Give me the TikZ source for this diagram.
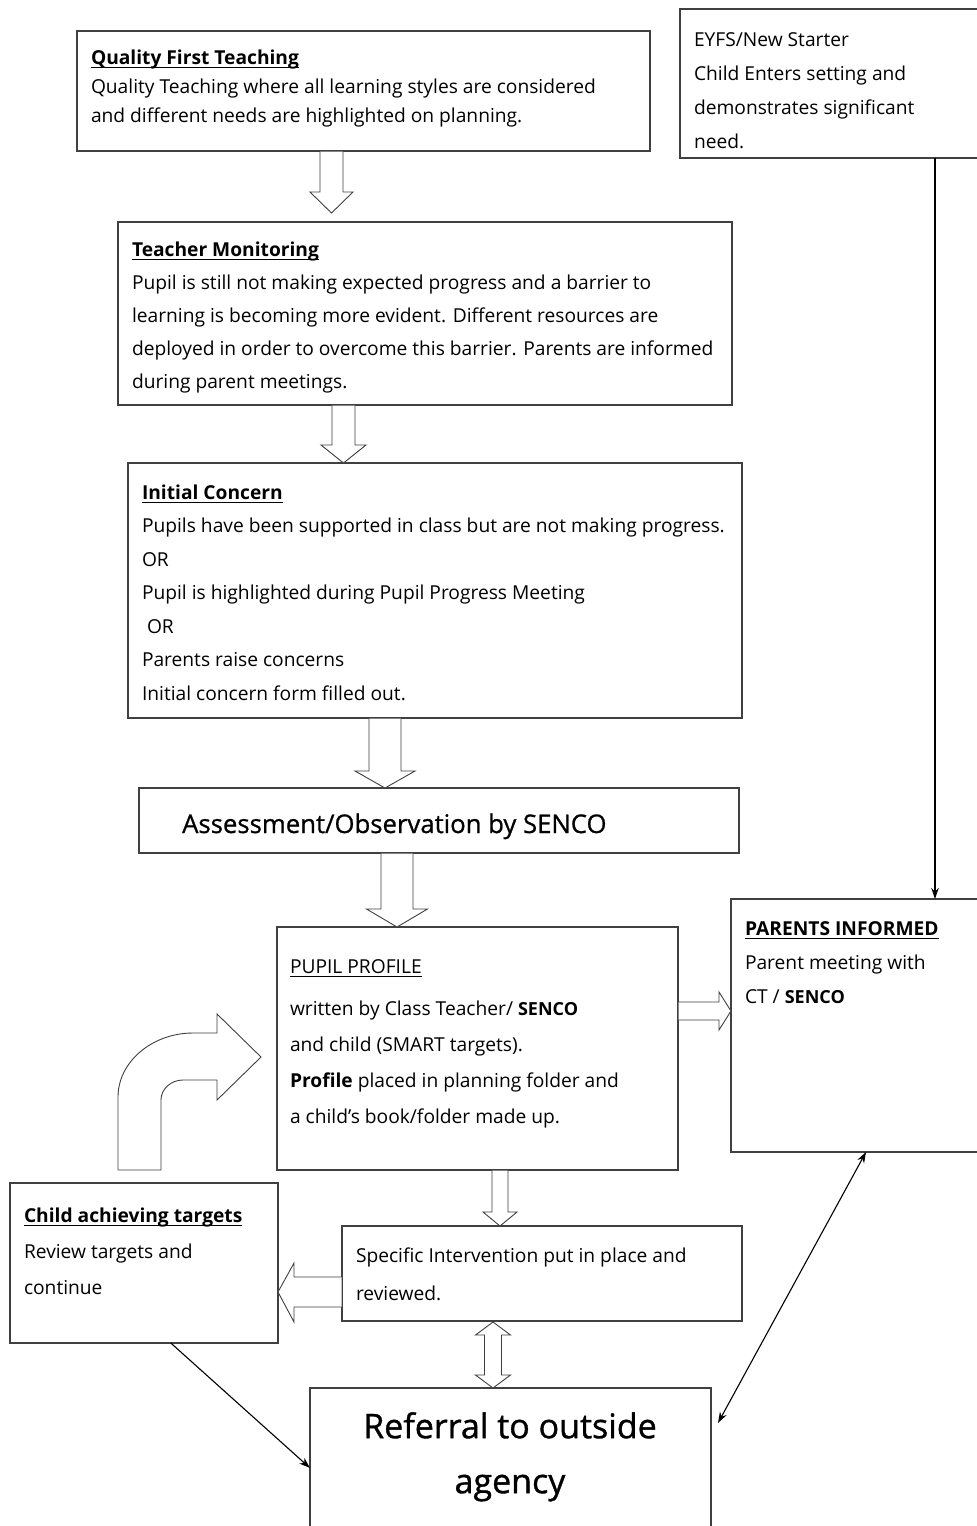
\documentclass[tikz,border=0pt]{standalone}
\usepackage{fontspec}
\setmainfont{Open Sans}
\usetikzlibrary{calc,arrows.meta}
\newcommand\ulin[1]{\setbox0\hbox{#1}\rlap{\rule[-3.6pt]{\wd0}{1pt}}\box0}
\newcommand\fl[1]{\rule{0pt}{#1}}
\newcommand\vblk[6]{\draw[blk] ({#1-#3},{#2}) -- ({#1-#3},{#5}) -- ({#1-#4},{#5}) -- ({#1},{#6}) -- ({#1+#4},{#5}) -- ({#1+#3},{#5}) -- ({#1+#3},{#2});}
\begin{document}
\begin{tikzpicture}[x=1pt,y=-1pt,
 box/.style={draw=black!75, line width=1.1pt, anchor=north west, inner sep=0pt, outer sep=0pt},
 txt/.style={anchor=north west, inner sep=0pt, outer sep=0pt, align=left, font=\fontsize{19.2}{#1}\selectfont},
 blk/.style={draw=black!75, line width=0.9pt, fill=white, line join=miter},
 ln/.style={draw=black, line width=1.1pt, -{Stealth[length=11pt,width=7.5pt]}},
 lnn/.style={draw=black, line width=1.1pt, {Stealth[length=11pt,width=7.5pt]}-{Stealth[length=11pt,width=7.5pt]}}]
\fill[white] (0,0) rectangle (977,1526);
\useasboundingbox (0,0) rectangle (977,1526);

% boxes
\node[box, minimum width=573pt, minimum height=120pt] (qft) at (77,31) {};
\node[box, minimum width=320pt, minimum height=149pt] (eyfs) at (680,9) {};
\node[box, minimum width=614pt, minimum height=183pt] (tm) at (118,222) {};
\node[box, minimum width=614pt, minimum height=255pt] (ic) at (128,463) {};
\node[box, minimum width=600pt, minimum height=65pt] (as) at (139,788) {};
\node[box, minimum width=401pt, minimum height=243pt] (pp) at (277,927) {};
\node[box, minimum width=270pt, minimum height=253pt] (par) at (731,899) {};
\node[box, minimum width=268pt, minimum height=160pt] (ch) at (10,1183) {};
\node[box, minimum width=400pt, minimum height=95pt] (si) at (342,1226) {};
\node[box, minimum width=401pt, minimum height=160pt] (ref) at (310,1388) {};

% texts
\node[txt=29] (t1) at (91,48) {\fl{16pt}\ulin{\bfseries Quality First Teaching}\\
Quality Teaching where all learning styles are considered\\
and different needs are highlighted on planning.};
\node[txt=34] (t2) at (694,30) {\fl{16pt}EYFS/New Starter\\
Child Enters setting and\\
demonstrates significant\\
need.};
\node[txt=33] (t3) at (132,240) {\fl{16pt}\ulin{\bfseries Teacher Monitoring}\\
Pupil is still not making expected progress and a barrier to\\
learning is becoming more evident. Different resources are\\
deployed in order to overcome this barrier. Parents are informed\\
during parent meetings.};
\node[txt=33.5] (t4) at (142,483) {\fl{16pt}\ulin{\bfseries Initial Concern}\\
Pupils have been supported in class but are not making progress.\\
OR\\
Pupil is highlighted during Pupil Progress Meeting\\
\hspace{5pt}OR\\
Parents raise concerns\\
Initial concern form filled out.};
\node[anchor=base west, inner sep=0pt, font=\fontsize{25.7}{30}\selectfont\addfontfeatures{FakeBold=0.8}] (t5) at (182,833) {Assessment/Observation by SENCO};
\node[txt=36] (t6) at (290,957) {\fl{16pt}\ulin{PUPIL PROFILE}\\[6pt]
written by Class Teacher/ {\bfseries\fontsize{18}{36}\selectfont SENCO}\\
and child (SMART targets).\\
{\bfseries Profile} placed in planning folder and\\
a child's book/folder made up.};
\node[txt=34] (t7) at (745,919) {\fl{16pt}\ulin{\bfseries PARENTS INFORMED}\\
Parent meeting with\\
CT / {\bfseries\fontsize{18}{34}\selectfont SENCO}};
\node[txt=36] (t8) at (24,1206) {\fl{16pt}\ulin{\bfseries Child achieving targets}\\
Review targets and\\
continue};
\node[txt=38] (t9) at (356,1246) {\fl{16pt}Specific Intervention put in place and\\
reviewed.};
\node[anchor=north, inner sep=0pt, align=center, font=\fontsize{34}{55}\selectfont\addfontfeatures{FakeBold=1}] (t10) at (510,1409) {\fl{29pt}Referral to outside\\agency};

% block arrows
\vblk{331.5}{151.5}{11.5}{21.5}{192}{213}
\vblk{343.5}{405.5}{11.5}{22.5}{445}{463}
\vblk{385}{718.5}{16}{30}{771}{788}
\vblk{397}{853.5}{16}{30.5}{909}{927}
\vblk{500}{1170.5}{8}{17}{1212}{1226}
% right arrow to parents
\draw[blk] (678.5,1002) -- (719,1002) -- (719,992) -- (731,1011) -- (719,1030) -- (719,1020) -- (678.5,1020);
% left arrow to child box
\draw[blk] (341.5,1277) -- (294,1277) -- (294,1263) -- (278,1292) -- (294,1322) -- (294,1307) -- (341.5,1307);
% double arrow
\draw[blk] (493,1322) -- (510.5,1335) -- (501.5,1335) -- (501.5,1375) -- (510.5,1375) -- (493,1388) -- (475.5,1375) -- (484.5,1375) -- (484.5,1335) -- (475.5,1335) -- cycle;
% curved arrow
\draw[blk] (118,1170) -- (118,1097) .. controls (118,1062) and (152,1033) .. (193,1033) -- (217,1033) -- (217,1014) -- (261,1057) -- (217,1100) -- (217,1080) -- (183,1080) .. controls (171,1080) and (161,1089) .. (161,1100) -- (161,1170) -- cycle;

% line connectors
\coordinate (xl) at (935,0);
\draw[ln] (eyfs.south -| xl) -- (par.north -| xl);
\draw[ln] ($(ch.south west)!0.6!(ch.south east)$) -- ($(ref.north west)+(0,80)$);
\draw[lnn] ($(par.south west)+(135,0)$) -- ($(ref.north east)+(7,35)$);
\end{tikzpicture}
\end{document}
